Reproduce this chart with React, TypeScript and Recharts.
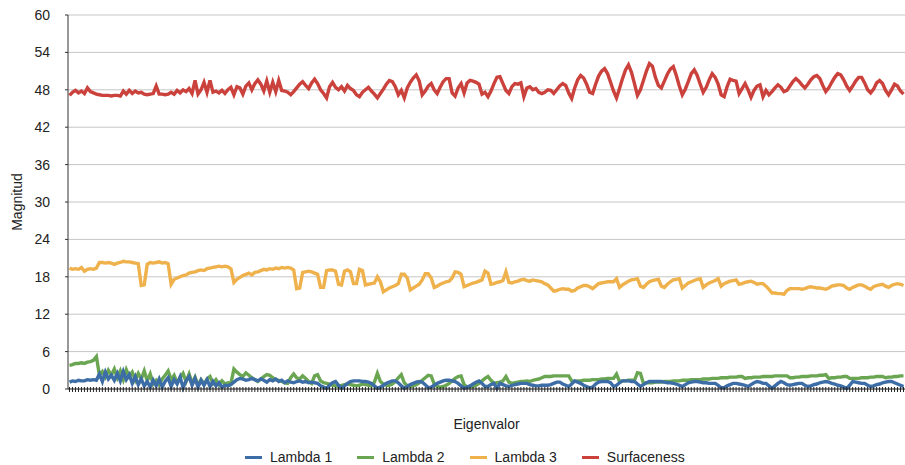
import { LineChart, Line, XAxis, YAxis, CartesianGrid, Legend } from "recharts";

// Eigenvalue magnitudes per sample point (280 points)
const lambda1 = [
  1.1, 1.3, 1.2, 1.4, 1.3, 1.3, 1.5, 1.4, 1.5, 1.4,
  2.4, 1.2, 2.7, 1.6, 2.2, 1.4, 2.5, 1.3, 2.8, 1.5,
  2.3, 0.9, 2.0, 0.7, 1.6, 0.5, 1.2, 0.3, 1.4, 0.5,
  1.6, 0.3, 1.2, 1.8, 0.4, 1.5, 0.8, 1.9, 0.2, 1.3,
  2.0, 0.6, 1.7, 0.3, 1.4, 0.6, 1.5, 0.4, 1.2, 0.5,
  1.0, 0.3, 0.6, 0.5, 0.7, 1.1, 1.5, 1.7, 1.6, 1.4,
  1.5, 1.7, 1.5, 1.3, 1.6, 1.4, 1.1, 1.5, 1.3, 1.6,
  1.2, 1.4, 1.0, 1.3, 1.1, 1.0, 1.2, 1.3, 1.1, 1.2,
  1.0, 1.1, 1.0, 0.9, 0.5, 0.3, 0.1, 0.6, 1.0, 1.2,
  0.6, 0.1, 0.5, 0.9, 1.2, 1.3, 1.3, 1.3, 1.2, 1.2,
  1.1, 0.9, 0.5, 0.1, 0.3, 0.6, 0.9, 1.1, 1.3, 1.3,
  1.0, 0.5, 0.1, 0.4, 0.7, 0.9, 1.1, 1.2, 1.1, 0.7,
  0.2, 0.3, 0.6, 0.9, 1.1, 1.3, 1.4, 1.4, 1.3, 1.2,
  0.9, 0.5, 0.1, 0.3, 0.5, 0.8, 1.1, 1.3, 0.9, 0.4,
  0.4, 0.7, 0.9, 0.1, 0.9, 0.7, 0.5, 0.4, 0.6, 0.7,
  0.8, 0.9, 0.9, 0.9, 0.7, 0.6, 0.5, 0.5, 0.6, 0.6,
  0.6, 0.7, 0.9, 1.1, 1.1, 0.8, 0.6, 0.4, 0.8, 1.3,
  1.1, 0.9, 0.6, 0.4, 0.2, 0.3, 0.8, 1.1, 1.2, 1.2,
  1.2, 1.0, 0.4, 0.6, 1.0, 1.3, 1.3, 1.3, 1.2, 1.2,
  0.8, 0.4, 0.7, 1.0, 1.2, 1.2, 1.2, 1.2, 1.2, 1.1,
  1.0, 1.0, 0.9, 0.8, 0.6, 0.4, 0.7, 1.0, 1.1, 1.2,
  1.2, 1.1, 1.0, 1.0, 0.9, 0.9, 0.9, 0.6, 0.2, 0.2,
  0.5, 0.7, 0.9, 0.9, 0.8, 0.7, 0.6, 0.4, 0.7, 1.0,
  1.2, 1.1, 0.9, 0.9, 0.5, 0.1, 0.5, 0.9, 1.2, 1.0,
  0.7, 0.6, 0.7, 0.8, 0.9, 0.9, 0.6, 0.4, 0.5, 0.7,
  0.8, 1.0, 1.1, 1.2, 1.1, 0.9, 0.8, 0.6, 0.5, 0.3,
  0.1, 0.6, 1.2, 1.1, 1.0, 0.9, 0.9, 0.6, 0.4, 0.5,
  0.7, 0.8, 1.0, 1.1, 1.2, 1.2, 1.0, 0.8, 0.6, 0.4,
];

const lambda2 = [
  3.8, 3.9, 4.1, 4.1, 4.2, 4.1, 4.3, 4.4, 4.6, 5.2,
  2.2, 2.8, 1.9, 3.0, 2.2, 3.2, 1.8, 2.9, 1.5, 3.1,
  2.0, 2.7, 1.4, 2.5, 1.6, 2.9, 1.3, 2.4, 0.8, 1.4,
  0.7, 1.6, 2.2, 2.9, 1.5, 2.2, 1.0, 1.8, 2.5, 1.2,
  2.4, 0.9, 1.9, 0.6, 1.5, 0.8, 1.6, 2.0, 0.9, 1.5,
  0.7, 1.3, 0.8, 1.0, 0.9, 3.2, 2.7, 2.3, 2.0, 2.6,
  2.2, 1.8, 1.5, 1.2, 1.6, 2.0, 2.3, 2.2, 1.8, 1.5,
  1.4, 1.2, 1.0, 0.9, 1.8, 2.4, 1.8, 1.6, 2.1, 1.7,
  1.2, 0.9, 2.1, 2.3, 1.3, 1.0, 0.9, 0.8, 0.6, 0.5,
  0.4, 0.6, 0.7, 0.8, 0.7, 0.6, 0.5, 0.6, 0.8, 0.7,
  0.6, 0.5, 1.1, 2.5, 1.2, 0.8, 0.6, 0.6, 0.8, 1.2,
  1.8, 2.3, 1.0, 0.5, 0.4, 0.5, 0.7, 1.0, 1.4, 1.8,
  2.2, 2.1, 0.8, 0.4, 0.3, 0.4, 0.6, 0.9, 1.3, 1.7,
  2.0, 2.1, 0.7, 0.3, 0.3, 0.4, 0.6, 0.9, 1.3, 1.7,
  2.0, 1.4, 0.9, 1.0, 1.1, 1.3, 2.0, 1.1, 0.9, 1.0,
  1.1, 1.2, 1.2, 1.3, 1.2, 1.4, 1.5, 1.6, 1.8, 2.0,
  2.0, 2.0, 2.1, 2.1, 2.1, 2.1, 2.1, 2.1, 1.3, 1.2,
  1.3, 1.3, 1.4, 1.4, 1.4, 1.5, 1.5, 1.5, 1.6, 1.6,
  1.7, 1.7, 1.7, 2.4, 1.2, 1.3, 1.3, 1.4, 1.4, 1.4,
  2.6, 2.5, 0.9, 1.0, 1.0, 1.0, 1.1, 1.1, 1.1, 1.2,
  1.2, 1.2, 1.3, 1.3, 1.3, 1.4, 1.4, 1.4, 1.5, 1.5,
  1.5, 1.5, 1.6, 1.6, 1.6, 1.7, 1.7, 1.7, 1.8, 1.8,
  1.8, 1.9, 1.9, 1.9, 2.0, 2.0, 1.7, 1.8, 1.8, 1.9,
  1.9, 1.9, 2.0, 2.0, 2.0, 2.0, 2.1, 2.1, 2.1, 2.1,
  2.1, 1.8, 1.8, 1.9, 1.9, 2.0, 2.0, 2.0, 2.1, 2.1,
  2.1, 2.2, 2.2, 2.3, 1.7, 1.8, 1.8, 1.9, 1.9, 2.0,
  2.0, 1.7, 1.7, 1.7, 1.7, 1.8, 1.8, 1.8, 1.9, 1.9,
  2.0, 2.0, 2.0, 1.8, 1.9, 1.9, 2.0, 2.0, 2.1, 2.1,
];

const lambda3 = [
  19.4, 19.2, 19.3, 19.2, 19.5, 18.9, 19.2, 19.3, 19.2, 19.4,
  20.3, 20.3, 20.2, 20.3, 20.2, 20.0, 20.2, 20.3, 20.5, 20.4,
  20.4, 20.3, 20.2, 20.1, 16.6, 16.7, 20.0, 20.3, 20.2, 20.3,
  20.4, 20.2, 20.3, 20.1, 16.8, 17.6, 17.8, 18.0, 18.2, 18.3,
  18.6, 18.7, 18.8, 19.0, 19.1, 19.0, 19.3, 19.4, 19.5, 19.6,
  19.7, 19.6, 19.7, 19.6, 19.3, 17.1, 17.6, 17.9, 18.2, 18.4,
  18.6, 18.3, 18.7, 18.8, 19.0, 19.2, 19.1, 19.3, 19.2, 19.4,
  19.3, 19.5, 19.4, 19.5, 19.4, 19.1, 16.1, 16.2, 18.7, 18.8,
  18.9, 18.8, 18.6, 18.4, 16.3, 16.3, 19.0, 19.1, 19.1, 18.9,
  16.8, 16.7, 18.9, 19.1, 18.8, 16.9, 16.9, 19.2, 19.0, 16.7,
  16.8, 16.9, 17.0, 18.0, 17.2, 15.6, 15.9, 16.2, 16.4, 16.6,
  16.9, 18.4, 18.4, 17.8, 15.9, 16.2, 16.5, 16.8, 17.5, 18.5,
  18.5, 17.8, 16.3, 16.5, 16.8, 17.0, 17.2, 17.3, 17.8, 18.8,
  18.7, 18.4, 16.4, 16.6, 16.8, 17.0, 17.1, 17.3, 17.5, 18.9,
  18.6, 16.8, 16.9, 17.1, 17.2, 17.4, 18.8, 17.1, 17.0, 17.2,
  17.3, 17.5, 17.6, 17.4, 17.3, 17.5, 17.4, 17.3, 17.2, 16.9,
  16.7, 16.2, 15.7, 15.8, 16.0, 16.1, 16.0, 16.0, 15.7, 15.8,
  16.2, 16.4, 16.6, 16.6, 16.4, 16.1, 16.5, 16.9, 17.0, 17.1,
  17.2, 17.2, 17.2, 17.7, 16.3, 16.7, 17.0, 17.3, 17.5, 17.6,
  17.7, 16.5, 16.3, 16.8, 17.2, 17.4, 17.5, 17.6, 16.5, 16.3,
  16.8, 17.2, 17.5, 17.6, 17.7, 16.2, 16.6, 17.0, 17.2, 17.4,
  17.6, 17.7, 16.3, 16.7, 17.0, 17.2, 17.4, 17.7, 16.5, 16.9,
  17.1, 17.3, 17.4, 17.5, 16.8, 16.9, 17.1, 17.2, 17.3, 17.1,
  16.8, 16.9, 16.9, 16.5, 16.0, 15.4, 15.4, 15.3, 15.3, 15.2,
  15.8, 16.1, 16.1, 16.1, 16.1, 16.0, 16.1, 16.3, 16.4, 16.3,
  16.2, 16.2, 16.1, 16.0, 16.2, 16.5, 16.6, 16.7, 16.7, 16.6,
  16.2, 16.0, 16.3, 16.5, 16.7, 16.7, 16.5, 16.2, 16.0, 16.4,
  16.6, 16.7, 16.8, 16.5, 16.3, 16.6, 16.8, 16.9, 16.8, 16.6,
];

const surfaceness = [
  47.1, 47.6, 47.9, 47.5, 47.8, 47.4, 48.3, 47.7, 47.5, 47.3,
  47.2, 47.1, 47.1, 47.1, 47.0, 47.1, 47.1, 47.0, 47.8, 47.3,
  47.9, 47.4, 47.8, 47.5, 47.6, 47.3, 47.2, 47.3, 47.4, 48.6,
  47.3, 47.3, 47.2, 47.3, 47.6, 47.3, 47.9, 47.5, 48.0, 47.7,
  48.2, 47.4, 49.5, 47.3, 48.0, 49.2, 47.6, 49.5, 47.6, 47.8,
  47.5, 47.9, 47.4, 48.0, 48.4, 47.2, 48.5, 48.3, 47.3, 48.6,
  49.1, 48.0, 49.0, 49.6, 48.9, 47.8, 49.4, 47.6, 49.2, 47.7,
  49.5, 47.9, 47.8, 47.6, 47.2, 47.7, 48.3, 48.9, 49.3, 48.7,
  48.2, 49.1, 49.7, 49.0, 48.0, 47.4, 46.7, 48.5, 49.2, 48.4,
  48.0, 48.5, 47.8, 48.7, 48.2, 47.9, 47.2, 46.9, 47.6, 48.0,
  48.4, 47.8, 47.3, 46.7, 47.4, 48.1, 48.9, 49.5, 49.3, 48.5,
  47.2, 47.9, 46.7, 48.3, 49.2, 49.9, 50.4, 49.4, 47.2, 47.8,
  48.6, 49.0, 48.0, 47.4, 48.4, 49.3, 49.8, 49.8, 47.5, 47.0,
  48.3, 49.0, 47.5, 49.1, 49.5, 49.4, 49.2, 48.9, 47.3, 47.6,
  46.9, 47.8, 49.0, 50.0, 50.1, 49.0, 47.9, 47.4, 48.5, 49.0,
  48.9, 49.1, 46.9, 48.3, 48.5, 48.0, 48.2, 47.6, 47.4, 47.6,
  48.0, 47.9, 47.4, 48.0, 48.6, 49.0, 48.7, 47.5, 46.6, 48.3,
  49.6, 50.3, 49.9, 48.9, 47.6, 47.4, 48.9, 50.2, 51.0, 51.4,
  50.6, 49.2, 47.8, 46.7, 48.2, 49.8, 51.2, 52.0, 50.8, 49.0,
  47.1, 48.0, 49.5, 51.0, 52.2, 51.8, 50.0, 48.7, 48.3, 49.4,
  50.5, 51.3, 51.7, 50.3, 48.6, 47.2, 48.1, 49.3, 50.6, 51.2,
  50.3, 48.9, 47.6, 48.4, 49.6, 50.6, 50.0, 48.9, 47.2, 46.9,
  48.5, 49.7, 49.5, 49.4, 47.4, 48.2, 49.0, 48.0, 46.8, 47.9,
  48.6, 48.8, 46.9, 47.9, 47.2, 47.7, 48.3, 48.8, 48.4, 47.7,
  47.9, 48.6, 49.3, 49.8, 49.4, 48.8, 48.3, 48.9, 49.6, 50.1,
  50.3, 49.8, 48.7, 47.7, 48.3, 49.2, 50.0, 50.6, 50.4, 49.6,
  48.6, 47.9, 48.6, 49.4, 50.0, 50.0, 49.1, 48.0, 47.5, 48.1,
  49.1, 49.5, 49.0, 47.9, 47.2, 48.0, 48.9, 48.6, 47.8, 47.3,
];

const eigenIndex = surfaceness.map((_, i) => i + 1);
const yTicks = [0, 6, 12, 18, 24, 30, 36, 42, 48, 54, 60];

const seriesInfo = [
  { key: "lambda1", name: "Lambda 1", color: "#3d6da6" },
  { key: "lambda2", name: "Lambda 2", color: "#6aa552" },
  { key: "lambda3", name: "Lambda 3", color: "#efb14b" },
  { key: "surfaceness", name: "Surfaceness", color: "#cb413c" },
];

const data = eigenIndex.map((n, i) => ({
  n,
  lambda1: lambda1[i],
  lambda2: lambda2[i],
  lambda3: lambda3[i],
  surfaceness: surfaceness[i],
}));

const FONT = '"Liberation Sans", Arial, Helvetica, sans-serif';

const LegendRow = () => (
  <div
    style={{
      display: "flex",
      alignItems: "center",
      height: 16,
      paddingLeft: 245,
      fontFamily: FONT,
      fontSize: 14,
      color: "#222",
    }}
  >
    {seriesInfo.map((s) => (
      <div key={s.key} style={{ display: "flex", alignItems: "center", marginRight: 25 }}>
        <span style={{ display: "inline-block", width: 17, height: 3, background: s.color, marginRight: 8 }} />
        <span>{s.name}</span>
      </div>
    ))}
  </div>
);

// category ticks are short marks crossing the axis line, no labels
const CrossTick = (p: { x: number; y: number }) => (
  <line x1={p.x} x2={p.x} y1={p.y - 2} y2={p.y + 3} stroke="#222" strokeWidth={1} />
);

export default function App() {
  return (
    <div style={{ position: "absolute", left: 0, top: 0, width: 905, height: 465, background: "#fff" }}>
      <LineChart
        width={905}
        height={465}
        data={data}
        margin={{ top: 15, right: 0, bottom: 0, left: 0 }}
        style={{ fontFamily: FONT }}
      >
        <CartesianGrid vertical={false} stroke="#c6c6c6" />
        <XAxis
          dataKey="n"
          interval={0}
          height={60}
          padding={{ left: 1.5, right: 1.5 }}
          tick={CrossTick}
          tickSize={0}
          tickMargin={0}
          tickLine={false}
          axisLine={{ stroke: "#333" }}
          label={{ value: "Eigenvalor", position: "insideBottom", offset: 20, fontSize: 14, fill: "#222" }}
        />
        <YAxis
          width={68}
          domain={[0, 60]}
          ticks={yTicks}
          interval={0}
          tickSize={3}
          tickMargin={15}
          tick={{ fontSize: 14, fill: "#222" }}
          tickLine={{ stroke: "#333" }}
          axisLine={{ stroke: "#333" }}
          label={{ value: "Magnitud", angle: -90, position: "center", dx: -17, fontSize: 14, fill: "#222" }}
        />
        <Legend verticalAlign="bottom" content={LegendRow} wrapperStyle={{ height: 16 }} />
        <Line dataKey="lambda2" name="Lambda 2" stroke="#6aa552" strokeWidth={3.4} dot={false} isAnimationActive={false} type="linear" />
        <Line dataKey="lambda1" name="Lambda 1" stroke="#3d6da6" strokeWidth={3.4} dot={false} isAnimationActive={false} type="linear" />
        <Line dataKey="lambda3" name="Lambda 3" stroke="#efb14b" strokeWidth={3.4} dot={false} isAnimationActive={false} type="linear" />
        <Line dataKey="surfaceness" name="Surfaceness" stroke="#cb413c" strokeWidth={3.4} dot={false} isAnimationActive={false} type="linear" />
      </LineChart>
    </div>
  );
}
